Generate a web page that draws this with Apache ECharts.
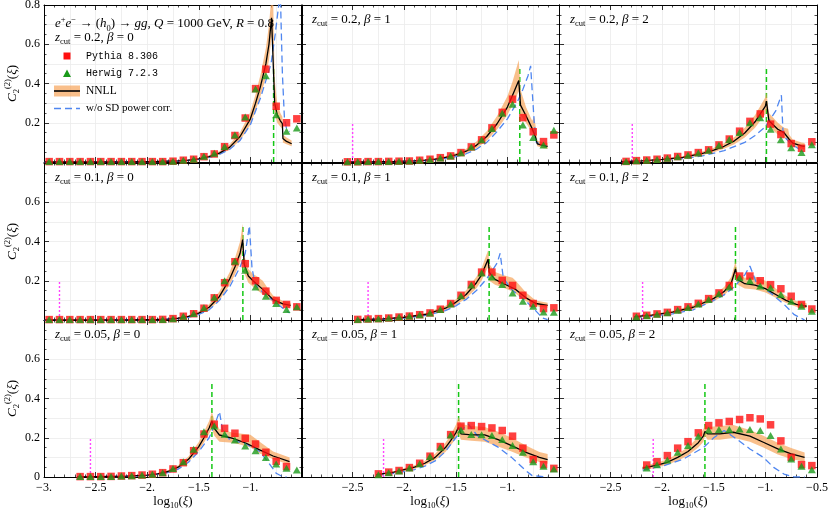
<!DOCTYPE html>
<html><head><meta charset="utf-8">
<script src="https://cdn.jsdelivr.net/npm/echarts@6/dist/echarts.min.js"></script>
<style>html,body{margin:0;padding:0;background:#fff}#c{width:830px;height:514px}</style>
</head><body><div id="c"></div>
<script>
// ---------------- data ----------------
const binCenters = [-2.95,-2.85,-2.75,-2.65,-2.55,-2.45,-2.35,-2.25,-2.15,-2.05,-1.95,-1.85,-1.75,-1.65,-1.55,-1.45,-1.35,-1.25,-1.15,-1.05,-0.95,-0.85,-0.75,-0.65,-0.55];
const zcutLabels = ['0.2','0.1','0.05'];
const betaLabels = ['0','1','2'];
const xTickValues = [-3,-2.5,-2,-1.5,-1,-0.5];
const xTickLabels = ['−3.','−2.5','−2.','−1.5','−1.','−0.5'];
const yTickValues = [0,0.2,0.4,0.6,0.8];
const yTickLabels = ['0','0.2','0.4','0.6','0.8'];

// zcut = 0.2, beta = 0
const pythia_z02_b0 = [0.002,0.002,0.002,0.002,0.002,0.002,0.002,0.002,0.002,0.002,0.002,0.002,0.004,0.009,0.014,0.027,0.041,0.078,0.135,0.224,0.374,0.473,0.284,0.2,0.22];
const herwig_z02_b0 = [0.002,0.002,0.002,0.002,0.002,0.002,0.002,0.002,0.002,0.002,0.002,0.002,0.004,0.009,0.014,0.029,0.044,0.079,0.138,0.229,0.372,0.44,0.241,0.157,0.173];
const nnll_z02_b0 = [[-3,0.001],[-2.2,0.001],[-1.9,0.003],[-1.7,0.006],[-1.6,0.01],[-1.5,0.016],[-1.4,0.027],[-1.3,0.045],[-1.2,0.076],[-1.1,0.13],[-1.0,0.22],[-0.95,0.3],[-0.9,0.39],[-0.85,0.5],[-0.82,0.6],[-0.795,0.735],[-0.765,0.3],[-0.74,0.24],[-0.71,0.21],[-0.69,0.195],[-0.685,0.12],[-0.65,0.105],[-0.6,0.093]];
const band_z02_b0 = [[-3,0,0.002],[-2.2,0,0.003],[-1.9,0.002,0.005],[-1.7,0.004,0.008],[-1.6,0.007,0.013],[-1.5,0.012,0.021],[-1.4,0.021,0.034],[-1.3,0.037,0.055],[-1.2,0.064,0.09],[-1.1,0.11,0.152],[-1.0,0.19,0.255],[-0.95,0.26,0.345],[-0.9,0.34,0.45],[-0.85,0.43,0.58],[-0.82,0.52,0.7],[-0.795,0.64,0.85],[-0.78,0.6,0.85],[-0.765,0.25,0.42],[-0.74,0.2,0.3],[-0.71,0.18,0.25],[-0.69,0.17,0.23],[-0.685,0.1,0.14],[-0.65,0.09,0.125],[-0.6,0.08,0.11]];
const woSD_z02_b0 = [[-3,0],[-1.9,0.002],[-1.7,0.005],[-1.6,0.008],[-1.5,0.013],[-1.4,0.022],[-1.3,0.038],[-1.2,0.065],[-1.1,0.11],[-1.0,0.19],[-0.9,0.33],[-0.8,0.5],[-0.76,0.65],[-0.73,0.78],[-0.71,0.86],[-0.69,0.45],[-0.67,0.22],[-0.65,0.17],[-0.62,0.155]];

// zcut = 0.2, beta = 1
const pythia_z02_b1 = [null,null,null,null,0.001,0.001,0.002,0.002,0.003,0.004,0.005,0.009,0.014,0.022,0.031,0.048,0.077,0.113,0.174,0.253,0.32,0.226,0.154,0.104,0.138];
const herwig_z02_b1 = [null,null,null,null,0.001,0.001,0.002,0.002,0.003,0.004,0.005,0.009,0.013,0.021,0.03,0.047,0.077,0.113,0.171,0.248,0.294,0.188,0.125,0.087,0.162];
const nnll_z02_b1 = [[-2.58,0.001],[-2.3,0.002],[-2.1,0.003],[-1.9,0.006],[-1.8,0.01],[-1.7,0.015],[-1.6,0.024],[-1.5,0.036],[-1.4,0.055],[-1.3,0.085],[-1.2,0.13],[-1.1,0.195],[-1.0,0.28],[-0.95,0.34],[-0.89,0.415],[-0.873,0.29],[-0.82,0.236],[-0.76,0.17],[-0.73,0.13],[-0.71,0.092],[-0.65,0.083],[-0.61,0.08]];
const band_z02_b1 = [[-2.58,0,0.003],[-2.3,0.001,0.004],[-2.1,0.002,0.005],[-1.9,0.004,0.009],[-1.8,0.007,0.013],[-1.7,0.011,0.02],[-1.6,0.018,0.031],[-1.5,0.028,0.045],[-1.4,0.044,0.068],[-1.3,0.07,0.104],[-1.2,0.108,0.157],[-1.1,0.165,0.235],[-1.0,0.24,0.335],[-0.95,0.29,0.41],[-0.89,0.36,0.52],[-0.873,0.24,0.37],[-0.82,0.2,0.28],[-0.76,0.15,0.21],[-0.74,0.14,0.23],[-0.72,0.1,0.16],[-0.71,0.08,0.11],[-0.65,0.07,0.1],[-0.61,0.068,0.097]];
const woSD_z02_b1 = [[-2.58,0],[-2.2,0.001],[-2.0,0.003],[-1.8,0.007],[-1.6,0.018],[-1.5,0.027],[-1.4,0.042],[-1.3,0.065],[-1.2,0.1],[-1.1,0.155],[-1.0,0.22],[-0.9,0.31],[-0.85,0.37],[-0.8,0.44],[-0.775,0.49],[-0.74,0.2],[-0.72,0.1],[-0.62,0.08]];

// zcut = 0.2, beta = 2
const pythia_z02_b2 = [null,null,null,null,null,null,0.003,0.007,0.01,0.014,0.02,0.028,0.036,0.048,0.062,0.087,0.117,0.157,0.207,0.245,0.193,0.14,0.094,0.07,0.103];
const herwig_z02_b2 = [null,null,null,null,null,null,0.003,0.006,0.009,0.013,0.019,0.027,0.035,0.046,0.06,0.085,0.115,0.15,0.2,0.225,0.167,0.113,0.073,0.048,0.088];
const nnll_z02_b2 = [[-2.4,0.002],[-2.2,0.006],[-2.0,0.013],[-1.8,0.024],[-1.6,0.045],[-1.5,0.06],[-1.4,0.08],[-1.3,0.108],[-1.2,0.148],[-1.1,0.205],[-1.0,0.285],[-0.99,0.31],[-0.966,0.21],[-0.88,0.167],[-0.82,0.15],[-0.77,0.116],[-0.735,0.096],[-0.65,0.082],[-0.62,0.08]];
const band_z02_b2 = [[-2.4,0.001,0.003],[-2.2,0.004,0.008],[-2.0,0.01,0.017],[-1.8,0.019,0.03],[-1.6,0.037,0.055],[-1.5,0.05,0.072],[-1.4,0.067,0.095],[-1.3,0.09,0.128],[-1.2,0.125,0.175],[-1.1,0.175,0.24],[-1.0,0.245,0.33],[-0.99,0.27,0.355],[-0.966,0.18,0.25],[-0.88,0.14,0.2],[-0.82,0.125,0.175],[-0.78,0.11,0.17],[-0.77,0.1,0.14],[-0.735,0.08,0.115],[-0.65,0.068,0.1],[-0.62,0.065,0.097]];
const woSD_z02_b2 = [[-2.4,0.001],[-2.0,0.008],[-1.8,0.017],[-1.6,0.032],[-1.4,0.058],[-1.2,0.1],[-1.1,0.135],[-1.0,0.18],[-0.9,0.26],[-0.845,0.34],[-0.83,0.16],[-0.8,0.12],[-0.75,0.09],[-0.7,0.075],[-0.63,0.05]];

// zcut = 0.1, beta = 0
const pythia_z01_b0 = [0.002,0.002,0.002,0.002,0.002,0.002,0.002,0.002,0.002,0.002,0.002,0.003,0.007,0.019,0.032,0.06,0.113,0.19,0.297,0.287,0.2,0.147,0.1,0.079,0.067];
const herwig_z01_b0 = [0.002,0.002,0.002,0.002,0.002,0.002,0.002,0.002,0.002,0.002,0.002,0.003,0.007,0.019,0.033,0.062,0.116,0.2,0.3,0.253,0.168,0.121,0.084,0.053,0.067];
const nnll_z01_b0 = [[-3,0.001],[-2.2,0.001],[-1.9,0.003],[-1.8,0.004],[-1.7,0.009],[-1.6,0.018],[-1.5,0.035],[-1.4,0.065],[-1.3,0.12],[-1.25,0.165],[-1.2,0.21],[-1.15,0.27],[-1.1,0.34],[-1.075,0.41],[-1.06,0.284],[-1.02,0.224],[-0.975,0.2],[-0.88,0.156],[-0.78,0.104],[-0.685,0.082],[-0.61,0.075]];
const band_z01_b0 = [[-3,0,0.002],[-2.2,0,0.002],[-1.9,0.002,0.005],[-1.8,0.003,0.006],[-1.7,0.007,0.012],[-1.6,0.014,0.023],[-1.5,0.028,0.044],[-1.4,0.053,0.08],[-1.3,0.1,0.145],[-1.25,0.14,0.195],[-1.2,0.18,0.245],[-1.15,0.23,0.315],[-1.1,0.29,0.4],[-1.075,0.36,0.49],[-1.06,0.24,0.33],[-1.02,0.19,0.26],[-0.975,0.17,0.235],[-0.93,0.15,0.22],[-0.88,0.13,0.2],[-0.83,0.11,0.16],[-0.78,0.09,0.125],[-0.685,0.07,0.097],[-0.61,0.064,0.088]];
const woSD_z01_b0 = [[-3,0],[-1.9,0.002],[-1.7,0.007],[-1.6,0.014],[-1.5,0.028],[-1.4,0.052],[-1.3,0.1],[-1.2,0.17],[-1.1,0.27],[-1.05,0.34],[-1.01,0.48],[-0.985,0.27],[-0.955,0.18],[-0.86,0.13],[-0.77,0.096],[-0.67,0.053],[-0.62,0.036]];

// zcut = 0.1, beta = 1
const pythia_z01_b1 = [null,null,null,null,null,0.003,0.005,0.007,0.01,0.015,0.02,0.027,0.036,0.055,0.084,0.126,0.181,0.244,0.244,0.202,0.176,0.126,0.084,0.058,0.062];
const herwig_z01_b1 = [null,null,null,null,null,0.003,0.005,0.007,0.01,0.015,0.02,0.027,0.036,0.054,0.082,0.123,0.178,0.24,0.219,0.181,0.138,0.096,0.07,0.041,0.039];
const nnll_z01_b1 = [[-2.46,0.002],[-2.2,0.006],[-2.0,0.014],[-1.8,0.028],[-1.6,0.06],[-1.5,0.09],[-1.4,0.13],[-1.3,0.19],[-1.25,0.23],[-1.187,0.31],[-1.175,0.241],[-1.12,0.207],[-1.02,0.181],[-0.92,0.156],[-0.82,0.113],[-0.725,0.084],[-0.61,0.074]];
const band_z01_b1 = [[-2.46,0.001,0.003],[-2.2,0.004,0.008],[-2.0,0.011,0.018],[-1.8,0.023,0.034],[-1.6,0.05,0.072],[-1.5,0.076,0.106],[-1.4,0.11,0.152],[-1.3,0.162,0.22],[-1.25,0.2,0.265],[-1.187,0.27,0.355],[-1.175,0.2,0.285],[-1.12,0.18,0.245],[-1.02,0.16,0.225],[-0.95,0.145,0.215],[-0.92,0.135,0.2],[-0.82,0.095,0.14],[-0.725,0.07,0.1],[-0.61,0.062,0.088]];
const woSD_z01_b1 = [[-2.46,0.001],[-2.2,0.004],[-2.0,0.01],[-1.8,0.022],[-1.6,0.048],[-1.5,0.072],[-1.4,0.105],[-1.3,0.15],[-1.2,0.21],[-1.1,0.29],[-1.07,0.34],[-1.04,0.215],[-0.96,0.156],[-0.82,0.096],[-0.72,0.044],[-0.66,0.01],[-0.61,0.002]];

// zcut = 0.1, beta = 2
const pythia_z01_b2 = [null,null,null,null,null,null,null,0.019,0.024,0.031,0.039,0.053,0.067,0.085,0.109,0.138,0.176,0.224,0.224,0.2,0.18,0.159,0.121,0.079,0.056];
const herwig_z01_b2 = [null,null,null,null,null,null,null,0.017,0.022,0.029,0.037,0.05,0.064,0.082,0.105,0.134,0.168,0.215,0.2,0.173,0.164,0.13,0.096,0.07,0.044];
const nnll_z01_b2 = [[-2.27,0.017],[-2.1,0.025],[-1.9,0.04],[-1.7,0.065],[-1.5,0.11],[-1.4,0.145],[-1.33,0.19],[-1.29,0.26],[-1.27,0.207],[-1.2,0.185],[-1.1,0.178],[-1.0,0.16],[-0.9,0.13],[-0.8,0.1],[-0.7,0.08],[-0.6,0.07]];
const band_z01_b2 = [[-2.27,0.014,0.021],[-2.1,0.021,0.03],[-1.9,0.034,0.047],[-1.7,0.056,0.076],[-1.5,0.095,0.128],[-1.4,0.125,0.168],[-1.33,0.165,0.22],[-1.29,0.235,0.3],[-1.27,0.18,0.24],[-1.2,0.16,0.215],[-1.1,0.155,0.22],[-1.0,0.14,0.2],[-0.9,0.113,0.16],[-0.8,0.087,0.122],[-0.7,0.068,0.097],[-0.6,0.06,0.085]];
const woSD_z01_b2 = [[-2.27,0.012],[-2.1,0.019],[-1.9,0.031],[-1.7,0.052],[-1.5,0.1],[-1.4,0.128],[-1.3,0.17],[-1.2,0.23],[-1.15,0.275],[-1.08,0.18],[-0.95,0.138],[-0.82,0.08],[-0.72,0.027],[-0.62,0.0]];

// zcut = 0.05, beta = 0
const pythia_z005_b0 = [null,null,null,0.002,0.002,0.002,0.003,0.005,0.007,0.01,0.014,0.022,0.041,0.073,0.134,0.219,0.269,0.248,0.223,0.197,0.168,0.126,0.08,0.053,null];
const herwig_z005_b0 = [null,null,null,0.002,0.002,0.002,0.003,0.005,0.007,0.01,0.014,0.022,0.043,0.078,0.141,0.231,0.26,0.218,0.189,0.158,0.134,0.099,0.066,0.044,0.036];
const nnll_z005_b0 = [[-2.68,0.001],[-2.2,0.004],[-2.0,0.01],[-1.9,0.016],[-1.8,0.028],[-1.7,0.05],[-1.6,0.09],[-1.5,0.155],[-1.45,0.2],[-1.4,0.25],[-1.373,0.286],[-1.35,0.248],[-1.3,0.214],[-1.17,0.197],[-1.04,0.172],[-0.91,0.138],[-0.78,0.107],[-0.62,0.078]];
const band_z005_b0 = [[-2.68,0,0.002],[-2.2,0.003,0.006],[-2.0,0.008,0.013],[-1.9,0.013,0.02],[-1.8,0.023,0.034],[-1.7,0.042,0.06],[-1.6,0.077,0.105],[-1.5,0.134,0.178],[-1.45,0.175,0.23],[-1.4,0.22,0.285],[-1.373,0.245,0.333],[-1.35,0.21,0.29],[-1.3,0.18,0.245],[-1.17,0.175,0.225],[-1.1,0.165,0.222],[-1.0,0.15,0.215],[-0.91,0.12,0.18],[-0.78,0.09,0.13],[-0.62,0.063,0.1]];
const woSD_z005_b0 = [[-2.68,0],[-2.2,0.003],[-2.0,0.008],[-1.8,0.022],[-1.7,0.04],[-1.6,0.075],[-1.5,0.13],[-1.4,0.2],[-1.35,0.26],[-1.3,0.333],[-1.27,0.24],[-1.2,0.19],[-1.04,0.168],[-0.91,0.13],[-0.82,0.07],[-0.75,0.019],[-0.7,0.005],[-0.65,0]];

// zcut = 0.05, beta = 1
const pythia_z005_b1 = [null,null,null,null,null,null,null,0.016,0.025,0.033,0.048,0.07,0.106,0.155,0.216,0.259,0.262,0.257,0.25,0.237,0.208,0.147,0.089,0.063,0.044];
const herwig_z005_b1 = [null,null,null,null,null,null,null,0.012,0.022,0.03,0.046,0.068,0.104,0.152,0.214,0.24,0.216,0.215,0.211,0.191,0.16,0.126,0.078,0.055,0.041];
const nnll_z005_b1 = [[-2.27,0.012],[-2.1,0.025],[-1.9,0.05],[-1.8,0.07],[-1.7,0.1],[-1.6,0.15],[-1.55,0.185],[-1.5,0.225],[-1.473,0.254],[-1.45,0.22],[-1.35,0.215],[-1.22,0.215],[-1.09,0.19],[-0.96,0.16],[-0.82,0.126],[-0.69,0.1],[-0.61,0.089]];
const band_z005_b1 = [[-2.27,0.009,0.015],[-2.1,0.02,0.03],[-1.9,0.042,0.06],[-1.8,0.06,0.083],[-1.7,0.086,0.118],[-1.6,0.128,0.175],[-1.55,0.16,0.215],[-1.5,0.195,0.265],[-1.473,0.22,0.305],[-1.45,0.19,0.27],[-1.35,0.185,0.26],[-1.22,0.18,0.255],[-1.09,0.155,0.23],[-0.96,0.13,0.2],[-0.82,0.1,0.16],[-0.69,0.077,0.128],[-0.61,0.068,0.117]];
const woSD_z005_b1 = [[-2.27,0.008],[-2.1,0.018],[-1.9,0.038],[-1.8,0.055],[-1.7,0.082],[-1.6,0.13],[-1.5,0.2],[-1.45,0.235],[-1.38,0.27],[-1.29,0.21],[-1.09,0.152],[-0.96,0.1],[-0.82,0.032],[-0.76,0.007],[-0.61,0]];

// zcut = 0.05, beta = 2
const pythia_z005_b2 = [null,null,null,null,null,null,null,null,0.061,0.078,0.109,0.147,0.18,0.225,0.262,0.276,0.283,0.293,0.302,0.296,0.266,0.184,0.1,0.063,0.058];
const herwig_z005_b2 = [null,null,null,null,null,null,null,null,0.046,0.063,0.087,0.126,0.16,0.208,0.24,0.242,0.242,0.245,0.242,0.237,0.211,0.143,0.092,0.055,0.037];
const nnll_z005_b2 = [[-2.19,0.045],[-2.05,0.06],[-1.95,0.075],[-1.85,0.1],[-1.75,0.13],[-1.65,0.175],[-1.6,0.21],[-1.586,0.232],[-1.56,0.22],[-1.44,0.22],[-1.31,0.228],[-1.15,0.208],[-1.02,0.177],[-0.88,0.143],[-0.75,0.118],[-0.62,0.1]];
const band_z005_b2 = [[-2.19,0.035,0.055],[-2.05,0.048,0.072],[-1.95,0.062,0.09],[-1.85,0.083,0.118],[-1.75,0.11,0.152],[-1.65,0.15,0.205],[-1.6,0.18,0.245],[-1.586,0.21,0.27],[-1.56,0.19,0.255],[-1.44,0.19,0.26],[-1.31,0.2,0.265],[-1.15,0.18,0.24],[-1.02,0.15,0.21],[-0.88,0.115,0.175],[-0.75,0.092,0.148],[-0.62,0.078,0.125]];
const woSD_z005_b2 = [[-2.19,0.035],[-2.0,0.055],[-1.8,0.09],[-1.6,0.15],[-1.5,0.2],[-1.4,0.237],[-1.28,0.194],[-1.15,0.143],[-1.02,0.1],[-0.92,0.049],[-0.82,0.015],[-0.72,0],[-0.62,0]];

// transition lines
const greenLineX = [-0.775,-0.88,-0.99,-1.073,-1.177,-1.29,-1.373,-1.473,-1.586];
const greenLineTop = 0.48;
const magentaLineX = [null,-2.5,-2.29,-2.85,-2.35,-2.19,-2.55,-2.2,-2.087];
const magentaLineTop = 0.2;

const legendNames = ['Pythia 8.306','Herwig 7.2.3','NNLL','w/o SD power corr.'];

// ---------------- build ----------------
const panels = [
  [pythia_z02_b0, herwig_z02_b0, nnll_z02_b0, band_z02_b0, woSD_z02_b0],
  [pythia_z02_b1, herwig_z02_b1, nnll_z02_b1, band_z02_b1, woSD_z02_b1],
  [pythia_z02_b2, herwig_z02_b2, nnll_z02_b2, band_z02_b2, woSD_z02_b2],
  [pythia_z01_b0, herwig_z01_b0, nnll_z01_b0, band_z01_b0, woSD_z01_b0],
  [pythia_z01_b1, herwig_z01_b1, nnll_z01_b1, band_z01_b1, woSD_z01_b1],
  [pythia_z01_b2, herwig_z01_b2, nnll_z01_b2, band_z01_b2, woSD_z01_b2],
  [pythia_z005_b0, herwig_z005_b0, nnll_z005_b0, band_z005_b0, woSD_z005_b0],
  [pythia_z005_b1, herwig_z005_b1, nnll_z005_b1, band_z005_b1, woSD_z005_b1],
  [pythia_z005_b2, herwig_z005_b2, nnll_z005_b2, band_z005_b2, woSD_z005_b2]
];

const serif = '"Liberation Serif", "DejaVu Serif", serif';
const mono = '"Liberation Mono", "DejaVu Sans Mono", monospace';
const C = {red:'#ff1010', green:'#1a9a1a', band:'rgba(246,160,84,0.68)', blue:'#4f86f0', vgreen:'#14c814', magenta:'#ff44ff', grid:'#ebebeb'};
const colLeft = [44, 301, 559], rowTop = [5, 163, 320], W = 258, H = 157;

const grids = [], xAxes = [], yAxes = [], series = [];
const xHide = [[-0.5], [-3, -0.5], [-3]];
const yHide = [[0], [0, 0.8], [0.8]];
const baseRich = {
  n: {fontFamily: serif, fontSize: 13, color: '#000', lineHeight: 18},
  i: {fontFamily: serif, fontSize: 13, fontStyle: 'italic', color: '#000', lineHeight: 18},
  sub: {fontFamily: serif, fontSize: 8.5, color: '#000', verticalAlign: 'bottom', lineHeight: 9},
  sup: {fontFamily: serif, fontSize: 8.5, color: '#000', verticalAlign: 'top', lineHeight: 9}
};

for (let i = 0; i < 9; i++) {
  const r = Math.floor(i / 3), c = i % 3;
  grids.push({left: colLeft[c], top: rowTop[r], width: W, height: H, outerBoundsMode: 'none', containLabel: false});
}
const tickCommon = {inside: true, length: 5, lineStyle: {color: '#000', width: 0.8}};
for (let i = 0; i < 9; i++) {
  const r = Math.floor(i / 3), c = i % 3;
  xAxes.push({
    type: 'value', gridIndex: i, min: -3, max: -0.5, interval: 0.5, position: 'bottom',
    axisLine: {onZero: false, lineStyle: {color: '#000', width: 1}},
    axisTick: tickCommon,
    minorTick: {show: true, splitNumber: 5, length: 2.5, lineStyle: {color: '#000', width: 0.7}},
    splitLine: {show: false},
    axisLabel: {
      show: r === 2, margin: 5, color: '#000', fontFamily: serif, fontSize: 12,
      showMinLabel: true, showMaxLabel: true,
      formatter: v => {
        const k = Math.round(v * 10) / 10;
        if (xHide[c].indexOf(k) >= 0) return '';
        const idx = xTickValues.indexOf(k);
        return idx >= 0 ? xTickLabels[idx] : '';
      }
    },
    name: r === 2 ? 'log{sub|10}({i|ξ})' : '',
    nameLocation: 'middle', nameGap: 15,
    nameTextStyle: {fontFamily: serif, fontSize: 13, color: '#000', rich: baseRich}
  });
}
for (let i = 0; i < 9; i++) {
  xAxes.push({
    type: 'value', gridIndex: i, min: -3, max: -0.5, interval: 0.5, position: 'top',
    axisLine: {onZero: false, lineStyle: {color: '#000', width: 1}},
    axisTick: tickCommon,
    minorTick: {show: true, splitNumber: 5, length: 2.5, lineStyle: {color: '#000', width: 0.7}},
    splitLine: {show: false}, axisLabel: {show: false}
  });
}
for (let i = 0; i < 9; i++) {
  xAxes.push({
    type: 'value', gridIndex: i, min: -3, max: -0.5, interval: 0.25, position: 'bottom',
    axisLine: {show: false}, axisTick: {show: false}, axisLabel: {show: false},
    splitLine: {show: true, lineStyle: {color: C.grid, width: 0.8}}
  });
}
for (let i = 0; i < 9; i++) {
  const r = Math.floor(i / 3), c = i % 3;
  yAxes.push({
    type: 'value', gridIndex: i, min: 0, max: 0.8, interval: 0.2, position: 'left',
    axisLine: {onZero: false, lineStyle: {color: '#000', width: 1}},
    axisTick: tickCommon,
    minorTick: {show: true, splitNumber: 4, length: 2.5, lineStyle: {color: '#000', width: 0.7}},
    splitLine: {show: false},
    axisLabel: {
      show: c === 0, margin: 4, color: '#000', fontFamily: serif, fontSize: 12,
      showMinLabel: true, showMaxLabel: true,
      formatter: v => {
        const k = Math.round(v * 10) / 10;
        if (yHide[r].indexOf(k) >= 0) return '';
        const idx = yTickValues.indexOf(k);
        return idx >= 0 ? yTickLabels[idx] : '';
      }
    },
    name: c === 0 ? '{i|C}{sub|2}{sup|(2)}({i|ξ})' : '',
    nameLocation: 'middle', nameGap: 19, nameRotate: 90,
    nameTextStyle: {fontFamily: serif, fontSize: 13, color: '#000', rich: baseRich}
  });
}
for (let i = 0; i < 9; i++) {
  yAxes.push({
    type: 'value', gridIndex: i, min: 0, max: 0.8, interval: 0.2, position: 'right',
    axisLine: {onZero: false, lineStyle: {color: '#000', width: 1}},
    axisTick: tickCommon,
    minorTick: {show: true, splitNumber: 4, length: 2.5, lineStyle: {color: '#000', width: 0.7}},
    splitLine: {show: false}, axisLabel: {show: false}
  });
}
for (let i = 0; i < 9; i++) {
  yAxes.push({
    type: 'value', gridIndex: i, min: 0, max: 0.8, interval: 0.1, position: 'left',
    axisLine: {show: false}, axisTick: {show: false}, axisLabel: {show: false},
    splitLine: {show: true, lineStyle: {color: C.grid, width: 0.8}}
  });
}

function bandRenderer(band) {
  return function (params, api) {
    if (params.dataIndex !== 0) return null;
    const upper = band.map(b => api.coord([b[0], b[2]]));
    const lower = band.slice().reverse().map(b => api.coord([b[0], b[1]]));
    const cs = params.coordSys;
    return {
      type: 'polygon',
      shape: {points: upper.concat(lower)},
      style: {fill: C.band, stroke: null},
      clipPath: {type: 'rect', shape: {x: cs.x, y: cs.y, width: cs.width, height: cs.height}}
    };
  };
}

for (let i = 0; i < 9; i++) {
  const [py, hw, nn, bd, wo] = panels[i];
  const ax = {xAxisIndex: i, yAxisIndex: i};
  series.push(Object.assign({
    type: 'line', name: 'transition ' + i, silent: true, symbol: 'none', z: 1, animation: false,
    color: C.vgreen,
    data: [[greenLineX[i], 0], [greenLineX[i], greenLineTop]],
    lineStyle: {color: C.vgreen, width: 1.5, type: [5, 3], opacity: 1}
  }, ax));
  if (magentaLineX[i] !== null) {
    series.push(Object.assign({
      type: 'line', name: 'nonpert ' + i, silent: true, symbol: 'none', z: 1, animation: false,
      color: C.magenta,
      data: [[magentaLineX[i], 0], [magentaLineX[i], magentaLineTop]],
      lineStyle: {color: C.magenta, width: 1.4, type: [2, 2]}
    }, ax));
  }
  series.push(Object.assign({
    type: 'custom', name: 'NNLL band', silent: true, z: 2, animation: false,
    renderItem: bandRenderer(bd),
    data: [[bd[0][0], bd[0][1]]]
  }, ax));
  series.push(Object.assign({
    type: 'line', name: legendNames[3], symbol: 'none', z: 3, animation: false, clip: true,
    color: C.blue,
    data: wo, lineStyle: {color: C.blue, width: 1.3, type: [7, 4]}
  }, ax));
  series.push(Object.assign({
    type: 'line', name: legendNames[2], symbol: 'none', z: 4, animation: false, clip: true,
    color: '#000',
    data: nn, lineStyle: {color: '#000', width: 1.3}
  }, ax));
  series.push(Object.assign({
    type: 'scatter', name: legendNames[0], symbol: 'rect', symbolSize: 7.5, z: 5, animation: false,
    data: binCenters.map((x, k) => py[k] === null ? null : [x, py[k]]).filter(d => d),
    itemStyle: {color: C.red}
  }, ax));
  series.push(Object.assign({
    type: 'scatter', name: legendNames[1], symbol: 'triangle', symbolSize: [8, 7], z: 6, animation: false,
    data: binCenters.map((x, k) => hw[k] === null ? null : [x, hw[k]]).filter(d => d),
    itemStyle: {color: C.green}
  }, ax));
}

// ---------------- texts & legend ----------------
const graphics = [];
graphics.push({
  type: 'text', left: 55, top: 15, z: 20,
  style: {
    text: '{i|e}{sup|+}{i|e}{sup|−} → ({i|h}{sub|0}) → {i|gg}, {i|Q} = 1000 GeV, {i|R} = 0.8',
    rich: baseRich, font: '13px ' + serif, fill: '#000'
  }
});
for (let i = 0; i < 9; i++) {
  const r = Math.floor(i / 3), c = i % 3;
  graphics.push({
    type: 'text', left: colLeft[c] + 11, top: rowTop[r] + (i === 0 ? 26 : 8), z: 20,
    style: {
      text: '{i|z}{sub|cut} = ' + zcutLabels[r] + ', {i|β} = ' + betaLabels[c],
      rich: baseRich, font: '13px ' + serif, fill: '#000'
    }
  });
}
const lg = {x: 54, y: 56, dy: 17.5, iconW: 26, textX: 86};
graphics.push({type: 'rect', z: 20, shape: {x: 63.5, y: lg.y - 3.5, width: 7, height: 7}, style: {fill: C.red}});
graphics.push({type: 'polygon', z: 20, shape: {points: [[67, lg.y + lg.dy - 4], [71, lg.y + lg.dy + 3.5], [63, lg.y + lg.dy + 3.5]]}, style: {fill: C.green}});
graphics.push({type: 'rect', z: 20, shape: {x: lg.x, y: lg.y + 2 * lg.dy - 5.5, width: lg.iconW, height: 11}, style: {fill: C.band}});
graphics.push({type: 'line', z: 21, shape: {x1: lg.x, y1: lg.y + 2 * lg.dy, x2: lg.x + lg.iconW, y2: lg.y + 2 * lg.dy}, style: {stroke: '#000', lineWidth: 1.6}});
graphics.push({type: 'line', z: 21, shape: {x1: lg.x, y1: lg.y + 3 * lg.dy, x2: lg.x + lg.iconW, y2: lg.y + 3 * lg.dy}, style: {stroke: C.blue, lineWidth: 1.5, lineDash: [7, 4]}});
const legendFonts = [mono, mono, serif, serif];
const legendSizes = [10, 10, 11.5, 11];
for (let k = 0; k < 4; k++) {
  graphics.push({
    type: 'text', z: 20, x: lg.textX, y: lg.y + k * lg.dy,
    style: {text: legendNames[k], font: legendSizes[k] + 'px ' + legendFonts[k], fill: '#000', verticalAlign: 'middle', align: 'left'}
  });
}

const chart = echarts.init(document.getElementById('c'));
chart.setOption({
  animation: false,
  backgroundColor: '#fff',
  grid: grids, xAxis: xAxes, yAxis: yAxes, series: series, graphic: graphics
});
</script></body></html>
